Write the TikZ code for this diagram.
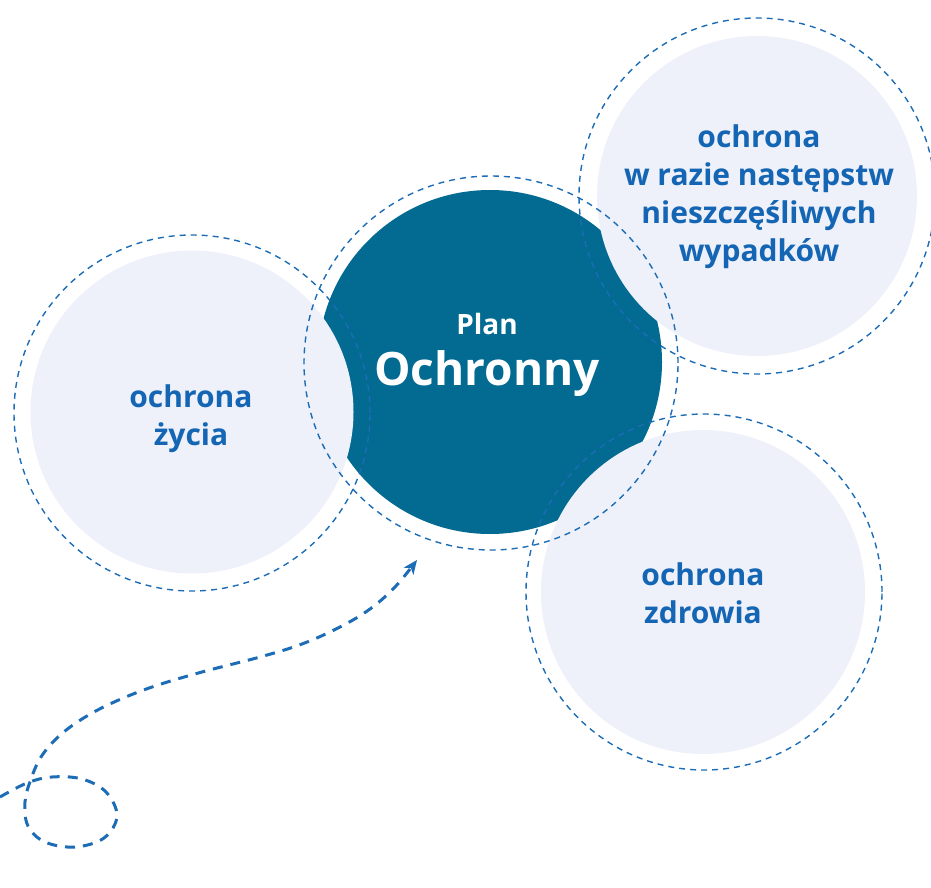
\documentclass[tikz,border=0pt]{standalone}
\usepackage{fontspec}
\setmainfont{Open Sans}
\usetikzlibrary{arrows.meta}
\definecolor{darkteal}{HTML}{036A92}
\definecolor{lightfill}{HTML}{EEF1F9}
\definecolor{ringblue}{HTML}{1C6CB6}
\definecolor{textblue}{HTML}{1465B3}
\tikzset{
  lightdisk/.style={circle, fill=lightfill, inner sep=0pt, minimum size=#1},
  darkdisk/.style={circle, fill=darkteal, inner sep=0pt, minimum size=#1},
  ring/.style={circle, draw=ringblue, line width=1.4pt, dash pattern=on 6pt off 5pt, inner sep=0pt, minimum size=#1},
  bluetext/.style={text=textblue, font=\bfseries\fontsize{30}{38}\selectfont, align=center},
  pathline/.style={draw=ringblue, line width=3pt, dash pattern=on 10pt off 8pt}
}
\begin{document}
\begin{tikzpicture}[x=1pt,y=-1pt]
\useasboundingbox (0,0) rectangle (931,888);
% fills
\node[darkdisk=344pt] (plan) at (490,362) {};
\node[lightdisk=323pt] (zycie) at (192,412) {};
\node[lightdisk=320pt] (wypadki) at (757,196) {};
\node[lightdisk=324pt] (zdrowie) at (703,592) {};
% rings
\node[ring=374pt] (planring) at (491,363) {};
\node[ring=356pt] (zyciering) at (192,413) {};
\node[ring=356pt] (wypadkiring) at (757,196) {};
\node[ring=356pt] (zdrowiering) at (704,592) {};
% texts
\node[text=white, font=\bfseries\fontsize{28}{30}\selectfont] (plantxt) at (487,324) {Plan};
\node[text=white, font=\bfseries\fontsize{46}{56}\selectfont] (ochrtxt) at (487,374) {Ochronny};
\node[bluetext] (zycietxt) at (191,419) {ochrona\\życia};
\node[bluetext] (wypadkitxt) at (759,197) {ochrona\\w razie następstw\\nieszczęśliwych\\wypadków};
\node[bluetext] (zdrowietxt) at (703,593) {ochrona\\zdrowia};
% dashed arrow
\coordinate (start) at (0,797);
\coordinate (tip) at (417,560);
\draw[pathline, -{Stealth[length=14pt,width=12pt,inset=4pt]}]
  plot[smooth, tension=0.6] coordinates {(0,797) (27,783) (52,777) (82,779) (106,792) (117,816) (104,838) (75,847) (45,842) (28,826) (25,802) (31,779) (41,757) (58,737) (82,719) (112,703) (152,687) (202,672) (260,657) (302,644) (340,627) (370,609) (395,587) (417,560)};
\end{tikzpicture}
\end{document}
